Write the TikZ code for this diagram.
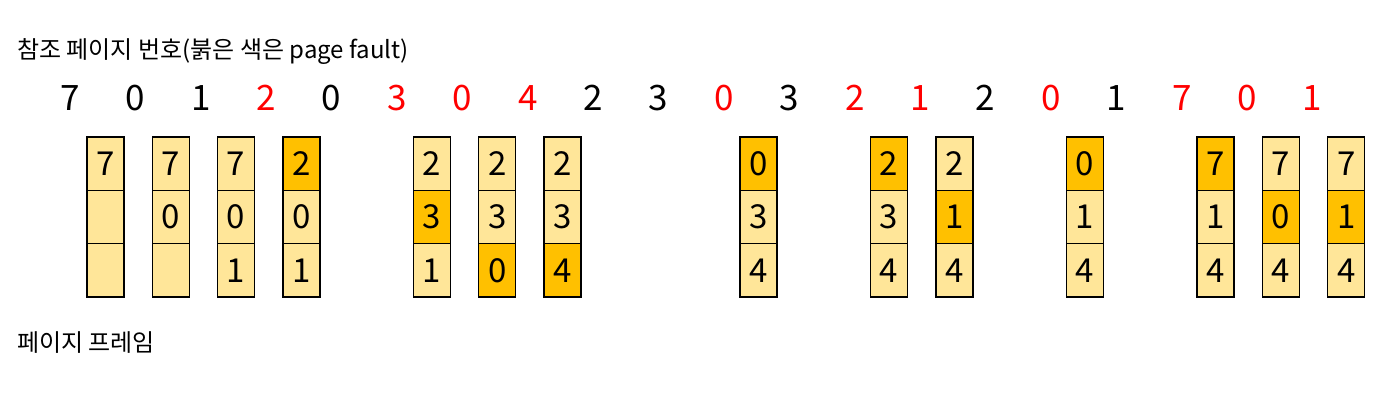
\documentclass[tikz,border=0pt]{standalone}
\usepackage{fontspec}
\setmainfont{Noto Sans CJK KR}
\definecolor{cellfill}{HTML}{FFE699}
\definecolor{cellhl}{HTML}{FFC000}
\definecolor{faultred}{HTML}{FF0000}
\begin{document}
\begin{tikzpicture}[x=1pt,y=-1pt,
  lbl/.style={anchor=west, inner sep=0, font=\fontsize{24}{24}\selectfont},
  refnum/.style={inner sep=0, font=\fontsize{35}{35}\selectfont},
  cell/.style={draw=black, line width=1.3pt, minimum width=37pt, minimum height=53.3pt, inner sep=0, font=\fontsize{33}{33}\selectfont},
  pl/.style={fill=cellfill},
  hi/.style={fill=cellhl}]
\useasboundingbox (0,0) rectangle (1400,406);
\node[lbl] (title) at (17,52) {참조 페이지 번호(붉은 색은 page fault)};
\node[lbl] (frames) at (17,343) {페이지 프레임};
\foreach \i/\v/\c in {0/7/black,1/0/black,2/1/black,3/2/faultred,4/0/black,5/3/faultred,6/0/faultred,7/4/faultred,8/2/black,9/3/black,10/0/faultred,11/3/black,12/2/faultred,13/1/faultred,14/2/black,15/0/faultred,16/1/black,17/7/faultred,18/0/faultred,19/1/faultred}
  \node[refnum, text=\c] (r\i) at ({70+65.4*\i},98) {\v};
\foreach \i/\a/\b/\c/\sa/\sb/\sc in {
  0/7/{}/{}/pl/pl/pl,
  1/7/0/{}/pl/pl/pl,
  2/7/0/1/pl/pl/pl,
  3/2/0/1/hi/pl/pl,
  5/2/3/1/pl/hi/pl,
  6/2/3/0/pl/pl/hi,
  7/2/3/4/pl/pl/hi,
  10/0/3/4/hi/pl/pl,
  12/2/3/4/hi/pl/pl,
  13/2/1/4/pl/hi/pl,
  15/0/1/4/hi/pl/pl,
  17/7/1/4/hi/pl/pl,
  18/7/0/4/pl/hi/pl,
  19/7/1/4/pl/hi/pl}{
  \node[cell,\sa] (b\i-1) at ({105.5+65.3*\i},163.7) {\a};
  \node[cell,\sb] (b\i-2) at ({105.5+65.3*\i},217) {\b};
  \node[cell,\sc] (b\i-3) at ({105.5+65.3*\i},270.3) {\c};
}
\end{tikzpicture}
\end{document}
